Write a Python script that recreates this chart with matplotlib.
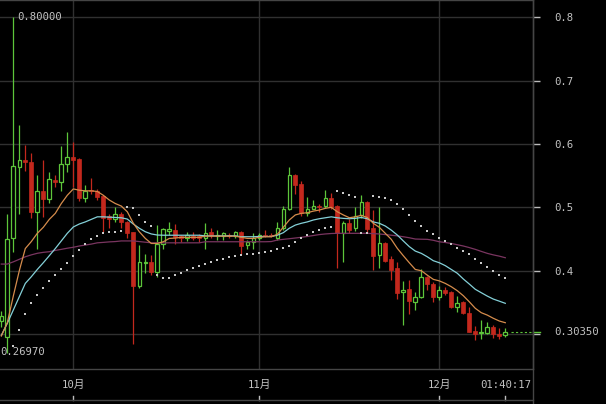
import numpy as np
import pandas as pd
import matplotlib
matplotlib.use('Agg')
import matplotlib.pyplot as plt
from matplotlib.transforms import blended_transform_factory
from matplotlib.lines import Line2D

# daily candles, first one is 19 Sep
start_day = '2018-09-19'

opens = [0.320, 0.296, 0.451, 0.564, 0.575, 0.572, 0.493, 0.526, 0.513, 0.543,
         0.540, 0.568, 0.580, 0.576, 0.514, 0.527, 0.525, 0.518, 0.486, 0.481,
         0.489, 0.477, 0.4605, 0.376, 0.412, 0.413, 0.398, 0.442, 0.463, 0.464,
         0.454, 0.451, 0.454, 0.454, 0.451, 0.4605, 0.455, 0.455, 0.457, 0.454,
         0.4605, 0.4405, 0.446, 0.451, 0.457, 0.457, 0.451, 0.467, 0.497, 0.551,
         0.537, 0.4915, 0.498, 0.502, 0.502, 0.514, 0.502, 0.460, 0.476, 0.467,
         0.488, 0.508, 0.468, 0.425, 0.444, 0.418, 0.404, 0.366, 0.371, 0.351,
         0.358, 0.3896, 0.379, 0.359, 0.3696, 0.367, 0.343, 0.351, 0.334, 0.3054,
         0.301, 0.302, 0.311, 0.2995, 0.298]
highs = [0.336, 0.490, 0.800, 0.630, 0.598, 0.585, 0.551, 0.575, 0.556, 0.551,
         0.596, 0.619, 0.603, 0.578, 0.535, 0.547, 0.529, 0.520, 0.490, 0.500,
         0.492, 0.479, 0.461, 0.440, 0.427, 0.425, 0.472, 0.468, 0.477, 0.473,
         0.456, 0.461, 0.461, 0.458, 0.475, 0.467, 0.464, 0.461, 0.460, 0.462,
         0.462, 0.448, 0.459, 0.460, 0.464, 0.459, 0.477, 0.502, 0.563, 0.553,
         0.541, 0.516, 0.5115, 0.506, 0.527, 0.522, 0.504, 0.478, 0.481, 0.500,
         0.519, 0.510, 0.495, 0.501, 0.446, 0.423, 0.414, 0.384, 0.386, 0.367,
         0.402, 0.392, 0.383, 0.376, 0.375, 0.368, 0.3606, 0.352, 0.342, 0.313,
         0.322, 0.3196, 0.315, 0.309, 0.309]
lows = [0.312, 0.2697, 0.430, 0.490, 0.558, 0.483, 0.435, 0.484, 0.507, 0.532,
        0.525, 0.555, 0.532, 0.510, 0.509, 0.521, 0.512, 0.461, 0.467, 0.477,
        0.468, 0.451, 0.285, 0.372, 0.396, 0.393, 0.390, 0.435, 0.456, 0.442,
        0.446, 0.447, 0.448, 0.446, 0.434, 0.451, 0.449, 0.448, 0.451, 0.452,
        0.427, 0.435, 0.434, 0.448, 0.453, 0.453, 0.448, 0.464, 0.496, 0.521,
        0.487, 0.486, 0.497, 0.493, 0.499, 0.497, 0.404, 0.414, 0.460, 0.462,
        0.483, 0.459, 0.401, 0.405, 0.414, 0.386, 0.356, 0.314, 0.332, 0.338,
        0.357, 0.3695, 0.351, 0.354, 0.361, 0.341, 0.335, 0.332, 0.303, 0.290,
        0.292, 0.2995, 0.2934, 0.292, 0.296]
closes = [0.328, 0.450, 0.565, 0.575, 0.571, 0.493, 0.526, 0.513, 0.544, 0.540,
          0.568, 0.579, 0.575, 0.514, 0.526, 0.525, 0.517, 0.483, 0.481, 0.489,
          0.477, 0.460, 0.376, 0.413, 0.414, 0.398, 0.442, 0.466, 0.466, 0.453,
          0.451, 0.457, 0.452, 0.451, 0.460, 0.456, 0.457, 0.459, 0.455, 0.4605,
          0.439, 0.446, 0.451, 0.457, 0.455, 0.455, 0.467, 0.497, 0.551, 0.535,
          0.4905, 0.498, 0.502, 0.500, 0.514, 0.500, 0.460, 0.476, 0.465, 0.487,
          0.508, 0.466, 0.423, 0.443, 0.416, 0.401, 0.365, 0.3695, 0.353, 0.358,
          0.3896, 0.3785, 0.359, 0.3696, 0.365, 0.343, 0.3495, 0.334, 0.304, 0.300,
          0.304, 0.311, 0.2997, 0.297, 0.3035]

# moving averages (fast / middle / slow)
ma_fast = [0.297, 0.318, 0.360, 0.400, 0.435, 0.446, 0.459, 0.4685, 0.481, 0.4905,
           0.506, 0.519, 0.529, 0.527, 0.526, 0.526, 0.525, 0.519, 0.5115, 0.506,
           0.502, 0.493, 0.475, 0.4615, 0.451, 0.443, 0.443, 0.4457, 0.451, 0.4515,
           0.4527, 0.4527, 0.4527, 0.4527, 0.4545, 0.4545, 0.4545, 0.4545, 0.4545, 0.4545,
           0.4527, 0.451, 0.451, 0.4527, 0.4536, 0.4536, 0.4574, 0.4685, 0.480, 0.488,
           0.4905, 0.4915, 0.494, 0.4957, 0.4984, 0.500, 0.493, 0.488, 0.4836, 0.485,
           0.4873, 0.484, 0.4748, 0.4685, 0.459, 0.4495, 0.4353, 0.4237, 0.4126, 0.402,
           0.400, 0.393, 0.3864, 0.384, 0.380, 0.3748, 0.3685, 0.3606, 0.351, 0.3407,
           0.3338, 0.330, 0.325, 0.3207, 0.318]
ma_mid = [0.298, 0.317, 0.338, 0.359, 0.380, 0.3905, 0.402, 0.4126, 0.4237, 0.435,
          0.447, 0.459, 0.469, 0.4737, 0.477, 0.481, 0.485, 0.485, 0.4845, 0.484,
          0.4835, 0.4815, 0.4737, 0.467, 0.4615, 0.458, 0.4563, 0.456, 0.456, 0.456,
          0.456, 0.456, 0.456, 0.456, 0.455, 0.455, 0.455, 0.455, 0.455, 0.455,
          0.4536, 0.4536, 0.4536, 0.454, 0.454, 0.454, 0.456, 0.460, 0.467, 0.472,
          0.4748, 0.477, 0.480, 0.482, 0.4835, 0.485, 0.4835, 0.4826, 0.482, 0.4826,
          0.484, 0.482, 0.477, 0.4748, 0.4705, 0.464, 0.4563, 0.447, 0.438, 0.431,
          0.4274, 0.422, 0.4158, 0.4126, 0.408, 0.402, 0.396, 0.387, 0.379, 0.3707,
          0.3653, 0.360, 0.3553, 0.352, 0.3486]
ma_slow = [0.4105, 0.4105, 0.414, 0.418, 0.422, 0.425, 0.4275, 0.429, 0.430, 0.432,
           0.4337, 0.4355, 0.437, 0.439, 0.4405, 0.442, 0.444, 0.4447, 0.4455, 0.446,
           0.447, 0.447, 0.447, 0.446, 0.445, 0.444, 0.444, 0.444, 0.444, 0.444,
           0.444, 0.444, 0.444, 0.444, 0.4457, 0.4457, 0.4457, 0.4457, 0.4457, 0.4457,
           0.4457, 0.4457, 0.4457, 0.4457, 0.4457, 0.446, 0.4484, 0.4495, 0.4505, 0.4516,
           0.4527, 0.454, 0.4555, 0.457, 0.458, 0.4587, 0.459, 0.459, 0.459, 0.459,
           0.459, 0.459, 0.4585, 0.458, 0.457, 0.456, 0.455, 0.4536, 0.452, 0.450,
           0.4497, 0.4495, 0.448, 0.4457, 0.4445, 0.443, 0.441, 0.439, 0.4365, 0.4337,
           0.4305, 0.4274, 0.425, 0.423, 0.4205]

# parabolic SAR dots
sar = [np.nan, np.nan, 0.281, 0.3065, 0.332, 0.3495, 0.362, 0.373, 0.384, 0.394,
       0.403, 0.4126, 0.423, 0.4327, 0.442, 0.4505, 0.4547, 0.460, 0.461, 0.461,
       0.4626, 0.500, 0.499, 0.488, 0.477, 0.4705, 0.393, 0.389, 0.389, 0.393,
       0.397, 0.401, 0.405, 0.408, 0.4105, 0.414, 0.417, 0.419, 0.422, 0.4237,
       0.425, 0.427, 0.427, 0.4284, 0.430, 0.4315, 0.434, 0.436, 0.439, 0.4457,
       0.4522, 0.456, 0.4615, 0.465, 0.467, 0.469, 0.526, 0.523, 0.520, 0.517,
       0.459, 0.459, 0.518, 0.517, 0.515, 0.5115, 0.505, 0.497, 0.488, 0.479,
       0.4705, 0.4626, 0.458, 0.452, 0.447, 0.442, 0.436, 0.431, 0.426, 0.419,
       0.4126, 0.406, 0.400, 0.394, 0.389]

price_ticks = [0.3, 0.4, 0.5, 0.6, 0.7, 0.8]
price_labels = ['', '0.4', '0.5', '0.6', '0.7', '0.8']
last_price = 0.3035
countdown = '01:40:17'

# colours
BG = '#000000'
GRID = '#303030'
TEXT = '#c2c2c2'
GREEN = '#5dc53a'
RED = '#c3281d'
MONO = ['DejaVu Sans Mono', 'Noto Sans CJK SC']

W, H = 606, 404
fig = plt.figure(figsize=(W / 100, H / 100), dpi=100, facecolor=BG)
ax = fig.add_axes([0, (H - 369) / H, 533 / W, 369 / H])
ax.set_facecolor(BG)

x = np.arange(len(closes))
o, h, l, c = (np.array(v) for v in (opens, highs, lows, closes))
up = c >= o

ax.set_xlim(-1.3 / 6, (533 - 1.3) / 6)
ax.set_ylim(0.245, 0.827)

# grid
ax.set_yticks(price_ticks)
ax.set_yticklabels(price_labels, family=MONO, fontsize=7.7, color=TEXT)
ax.yaxis.tick_right()
ax.tick_params(axis='y', length=5, width=1, color='#bdbdbd', pad=10)
ax.grid(axis='y', color=GRID, lw=1)
ax.set_xticks([])

dates = pd.date_range(start_day, periods=len(closes), freq='D')
month_idx = [i for i, d in enumerate(dates) if d.day == 1]
month_lbl = [f'{dates[i].month}月' for i in month_idx]
for i in month_idx:
    ax.axvline(i, color=GRID, lw=1, zorder=1)

ax.spines['left'].set_visible(False)
for side in ('top', 'bottom', 'right'):
    ax.spines[side].set_color('#454545')
    ax.spines[side].set_linewidth(1)

# candles
cols = np.where(up, GREEN, RED)
ax.vlines(x, l, h, colors=cols, lw=0.9, zorder=3)
lo = np.minimum(o, c)
hgt = np.maximum(np.abs(c - o), 0.0016)
ax.bar(x[up], hgt[up], bottom=lo[up], width=0.6, facecolor=BG,
       edgecolor=GREEN, linewidth=0.9, zorder=4)
ax.bar(x[~up], hgt[~up], bottom=lo[~up], width=0.62, facecolor=RED,
       edgecolor=RED, linewidth=0.5, zorder=4)

# indicators
ax.plot(x, ma_slow, color='#7a3560', lw=0.9, zorder=5)
ax.plot(x, ma_mid, color='#84d0d8', lw=0.9, zorder=5)
ax.plot(x, ma_fast, color='#d58c4c', lw=0.9, zorder=5)
ax.plot(x, sar, 's', ms=1.5, mew=0, color='#c8c8c8', zorder=6)

# last price marker
right = ax.get_xlim()[1]
ax.plot([x[-1] + 1, right], [last_price, last_price], color=GREEN, lw=0.8,
        dashes=(2, 2), zorder=6)
ax.plot([right, right + 7 / 6], [last_price, last_price], color=GREEN, lw=1,
        clip_on=False, zorder=6)
ax.text(right + 21.3 / 6, last_price, f'{last_price:.5f}', family=MONO,
        fontsize=7.7, color=TEXT, va='center', ha='left', clip_on=False)

# max / min labels
imax = int(np.argmax(h))
imin = int(np.argmin(l))
ax.text(imax + 0.65, h[imax], f'{h[imax]:.5f}', family=MONO, fontsize=7.7,
        color=TEXT, va='center', ha='left')
ax.text(ax.get_xlim()[0], l[imin] + 0.0016, f'{l[imin]:.5f}', family=MONO,
        fontsize=7.7, color=TEXT, va='center', ha='left')

# time axis strip below the chart
tr = blended_transform_factory(ax.transData, fig.transFigure)
for i, lbl in zip(month_idx + [x[-1]], month_lbl + [countdown]):
    ax.text(i, 1 - 385 / H, lbl, family=MONO, fontsize=7.7, color=TEXT,
            ha='center', va='center', transform=tr, clip_on=False)
    ax.plot([i, i], [1 - 396 / H, 1 - 400 / H], color='#bdbdbd', lw=1,
            transform=tr, clip_on=False)

fig.add_artist(Line2D([0, 533 / W], [1 - 400 / H, 1 - 400 / H], color='#454545', lw=1))
fig.add_artist(Line2D([533 / W, 533 / W], [0, 1], color='#454545', lw=1))

fig.savefig('out.png', dpi=100, facecolor=BG)
